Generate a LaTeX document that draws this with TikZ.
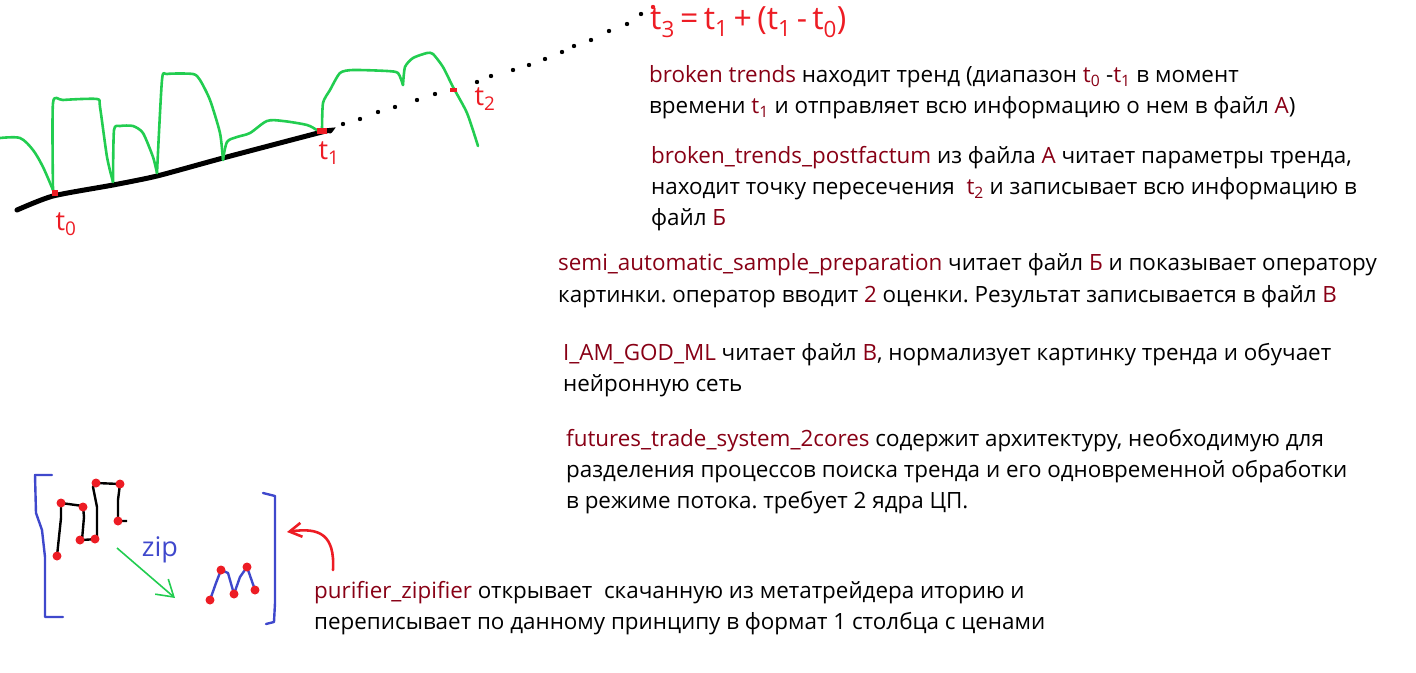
\documentclass[tikz,border=0pt]{standalone}
\usepackage{fontspec}
\setmainfont{Open Sans}
\usetikzlibrary{arrows.meta}
\definecolor{progred}{RGB}{136,0,21}
\definecolor{penred}{RGB}{237,28,36}
\definecolor{pengreen}{RGB}{34,205,80}
\definecolor{penblue}{RGB}{63,72,204}
\newcommand{\prog}[1]{\textcolor{progred}{#1}}
\newcommand{\tsub}[1]{t\textsubscript{#1}}
\frenchspacing

\begin{document}
\begin{tikzpicture}[x=1pt,y=-1pt,
  txt/.style={anchor=base west,inner sep=0pt,font=\fontsize{22.4}{26}\selectfont},
  hand/.style={inner sep=0pt,text=penred,font=\fontsize{27}{30}\selectfont},
  greenpen/.style={pengreen,line width=2.6pt,line cap=round,line join=round},
  bluepen/.style={penblue,line width=2.4pt,line cap=round,line join=round},
  dotpt/.style={fill=black},
  reddot/.style={fill=penred}]
\useasboundingbox (0,0) rectangle (1416,672);

% trend line and price
\draw[line width=5pt,line cap=round] plot[smooth,tension=0.4] coordinates
  {(17,210) (53,196) (113,185) (157,176) (223,158) (322,132) (330,131)};
\draw[greenpen] plot[smooth,tension=0.5] coordinates {(0,138) (20,138) (33,150) (43,167) (53,190)};
\draw[greenpen] plot[smooth,tension=0.4] coordinates {(53,190) (53,103) (63,100) (97,99) (100,107) (107,157) (113,182)};
\draw[greenpen] plot[smooth,tension=0.4] coordinates {(113,182) (114,130) (120,126) (133,126) (143,133) (153,157) (157,173)};
\draw[greenpen] plot[smooth,tension=0.4] coordinates {(157,173) (162,80) (167,74) (193,74) (200,80) (210,100) (220,133) (223,160)};
\draw[greenpen] plot[smooth,tension=0.5] coordinates {(223,160) (227,142) (237,137) (250,133) (267,121) (283,121) (307,125) (317,130) (322,131)};
\draw[greenpen] plot[smooth,tension=0.4] coordinates {(322,131) (323,103) (330,90) (340,73) (353,70) (387,71) (398,73) (403,85)};
\draw[greenpen] plot[smooth,tension=0.4] coordinates {(403,85) (405,67) (413,58) (427,53) (433,54) (443,67) (453,87) (467,113) (478,146)};

% extension of the trend
\foreach \p in {(343,124),(360,119),(378,112),(395,107),(417,100),(435,94),(477,82),(491,76),
  (513,70),(529,65),(545,59),(562,52),(574,46),(591,40),(609,31),(627,24),(641,14)}
  \fill[dotpt] \p circle (2.2);
\fill[penred] (52,190) rectangle (58,196);
\fill[penred] (317,128) rectangle (327,134);
\fill[penred] (450,88) rectangle (457,92);
\fill[penred] (653,7) circle (2.2);

\node[hand] (tzero) at (66,224) {\tsub{0}};
\node[hand] (tone) at (329,153) {\tsub{1}};
\node[hand] (ttwo) at (485,99) {\tsub{2}};
\node[hand,font=\fontsize{32}{36}\selectfont,anchor=west] (tthree) at (650,22)
  {\tsub{3}\,=\,\tsub{1}\,+\,(\tsub{1}\,-\,\tsub{0})};

% descriptions
\node[txt] (bt1) at (649,82) {\prog{broken trends} находит тренд (диапазон \prog{\tsub{0}} -\prog{\tsub{1}} в момент};
\node[txt] (bt2) at (649,113) {времени \prog{\tsub{1}} и отправляет всю информацию о нем в файл \prog{А})};
\node[txt] (pf1) at (651,163) {\prog{broken\_trends\_postfactum} из файла \prog{А} читает параметры тренда,};
\node[txt] (pf2) at (651,194) {находит точку пересечения \ \prog{\tsub{2}} и записывает всю информацию в};
\node[txt] (pf3) at (651,225) {файл \prog{Б}};
\node[txt] (sa1) at (558,270) {\prog{semi\_automatic\_sample\_preparation} читает файл \prog{Б} и показывает оператору};
\node[txt] (sa2) at (558,302) {картинки. оператор вводит \prog{2} оценки. Результат записывается в файл \prog{В}};
\node[txt] (ml1) at (563,360) {\prog{I\_AM\_GOD\_ML} читает файл \prog{В}, нормализует картинку тренда и обучает};
\node[txt] (ml2) at (563,391) {нейронную сеть};
\node[txt] (fs1) at (566,446) {\prog{futures\_trade\_system\_2cores} содержит архитектуру, необходимую для};
\node[txt] (fs2) at (566,477) {разделения процессов поиска тренда и его одновременной обработки};
\node[txt] (fs3) at (566,508) {в режиме потока. требует 2 ядра ЦП.};
\node[txt] (pz1) at (314,598) {\prog{purifier\_zipifier} открывает \ скачанную из метатрейдера иторию и};
\node[txt] (pz2) at (314,629) {переписывает по данному принципу в формат 1 столбца с ценами};

% zip scheme
\draw[bluepen] (52,475) -- (35,475) -- (36,513) -- (42,530) -- (45,557) -- (45,617) -- (63,617);
\draw[bluepen] (263,493) -- (275,496) -- (275,603) -- (274,622) -- (266,624);
\draw[line width=2.4pt,line join=round] (57,556) -- (61,518) -- (61,503) -- (83,506) -- (84,517) -- (82,540)
  -- (97,539) -- (97,507) -- (93,487) -- (96,483) -- (120,484) -- (118,500) -- (118,521) -- (127,521);
\foreach \p in {(57,556),(61,503),(83,507),(80,540),(95,539),(96,483),(120,484),(118,521)}
  \fill[reddot] \p circle (4.5);
\draw[bluepen] (210,600) -- (216,583) -- (221,570) -- (228,573) -- (234,594) -- (240,577) -- (247,567) -- (255,590);
\foreach \p in {(210,600),(221,570),(234,594),(247,567),(255,590)}
  \fill[reddot] \p circle (4.5);
\node[inner sep=0pt,text=penblue,font=\fontsize{27}{30}\selectfont] (zip) at (160,550) {zip};

\coordinate (zfrom) at (117,548);
\coordinate (zto) at (175,598);
\draw[pengreen,line width=1.6pt,-{Straight Barb[length=16pt,width=20pt]}] (zfrom) -- (zto);

\coordinate (rfrom) at (333,570);
\coordinate (rto) at (287,532);
\draw[penred,line width=2.6pt,line cap=round,-{Straight Barb[length=12pt,width=14pt]}]
  (rfrom) .. controls (335,535) and (320,527) .. (rto);
\end{tikzpicture}
\end{document}
